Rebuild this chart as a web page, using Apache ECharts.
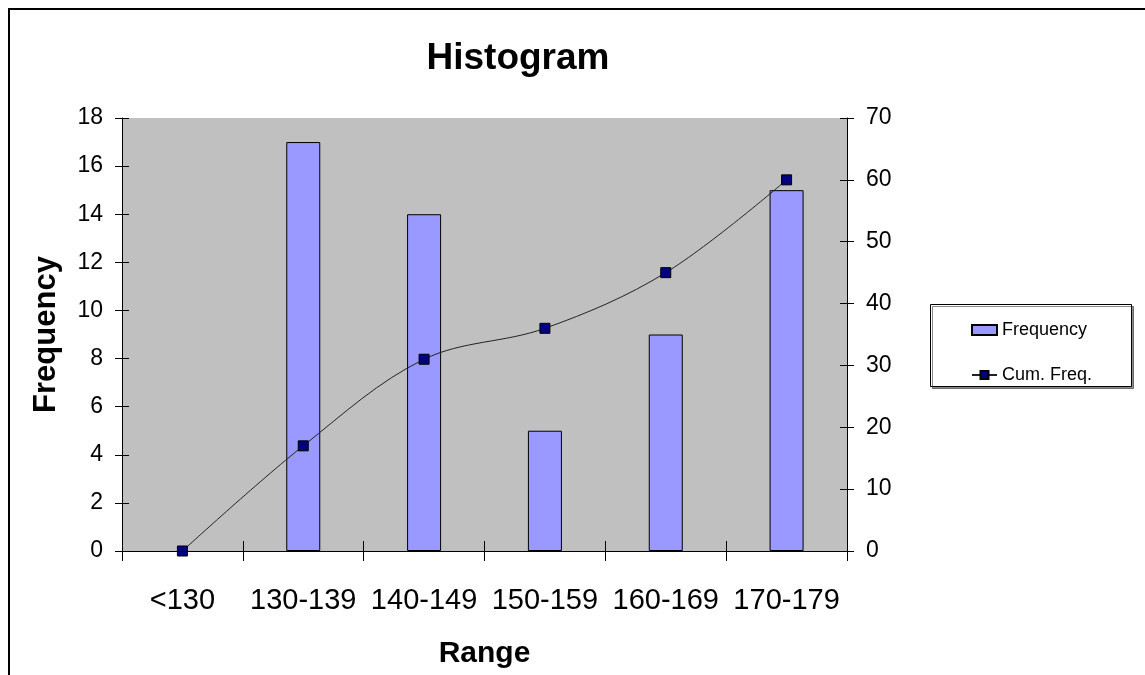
<!DOCTYPE html>
<html>
<head>
<meta charset="utf-8">
<script src="https://cdn.jsdelivr.net/npm/echarts@6/dist/echarts.min.js"></script>
<style>
  html, body { margin: 0; padding: 0; background: #fff; }
  #chart { width: 1145px; height: 675px; }
</style>
</head>
<body>
<div id="chart"></div>
<script>
const categories = ["<130", "130-139", "140-149", "150-159", "160-169", "170-179"];
const frequency = [0, 17, 14, 5, 9, 15];
const cumFreq = [0, 17, 31, 36, 45, 60];

const FONT = "'Liberation Sans', Arial, sans-serif";

const chart = echarts.init(document.getElementById("chart"));

// each axis drawn twice so the ticks cross the axis line like the original
const yLeft = { type: "value", min: 0, max: 18, interval: 2, position: "left" };
const yRight = { type: "value", min: 0, max: 70, interval: 10, position: "right" };

chart.setOption({
  animation: false,
  title: {
    text: "Histogram",
    left: 513,
    top: 35,
    textAlign: "center",
    textStyle: { fontFamily: FONT, fontSize: 37, fontWeight: "bold", color: "#000" },
  },
  graphic: [
    {
      type: "rect",
      shape: { x: 9, y: 9, width: 1200, height: 700 },
      style: { fill: "none", stroke: "#000", lineWidth: 2 },
      z: -1,
    },
    {
      type: "rect",
      shape: { x: 930.5, y: 304.5, width: 201, height: 82 },
      style: {
        fill: "#fff",
        stroke: "#000",
        lineWidth: 1,
        shadowColor: "rgba(0,0,0,0.45)",
        shadowOffsetX: 2,
        shadowOffsetY: 2,
      },
      z: 0,
    },
  ],
  legend: {
    orient: "vertical",
    left: 966,
    top: 316,
    itemGap: 27,
    itemWidth: 25,
    itemHeight: 10,
    z: 10,
    textStyle: { fontFamily: FONT, fontSize: 18, color: "#000" },
    data: [
      { name: "Frequency", icon: "rect" },
      { name: "Cum. Freq." },
    ],
  },
  grid: {
    left: 122,
    right: 298,
    top: 118,
    bottom: 124,
    show: true,
    backgroundColor: "#c0c0c0",
    borderWidth: 0,
  },
  xAxis: [
    {
      type: "category",
      data: categories,
      position: "bottom",
      axisLine: { show: true, lineStyle: { color: "#000", width: 1 } },
      axisTick: { show: true, interval: 0, length: 10, lineStyle: { color: "#000" } },
      axisLabel: { interval: 0, margin: 35, fontFamily: FONT, fontSize: 29, color: "#000" },
      name: "Range",
      nameLocation: "middle",
      nameGap: 88,
      nameTextStyle: { fontFamily: FONT, fontSize: 30, fontWeight: "bold", color: "#000" },
      z: 6,
    },
    {
      type: "category",
      data: categories,
      position: "bottom",
      axisLine: { show: false },
      axisTick: { show: true, interval: 0, inside: true, length: 10, lineStyle: { color: "#000" } },
      axisLabel: { show: false },
      z: 6,
    },
  ],
  yAxis: [
    {
      ...yLeft,
      axisLine: { show: true, lineStyle: { color: "#000" } },
      axisTick: { show: true, length: 7, lineStyle: { color: "#000" } },
      axisLabel: { margin: 19, fontFamily: FONT, fontSize: 23, color: "#000" },
      splitLine: { show: false },
      name: "Frequency",
      nameLocation: "middle",
      nameGap: 60,
      nameTextStyle: { fontFamily: FONT, fontSize: 31, fontWeight: "bold", color: "#000" },
    },
    {
      ...yRight,
      axisLine: { show: true, lineStyle: { color: "#000" } },
      axisTick: { show: true, length: 7, lineStyle: { color: "#000" } },
      axisLabel: { margin: 19, fontFamily: FONT, fontSize: 23, color: "#000" },
      splitLine: { show: false },
    },
    {
      ...yLeft,
      axisLine: { show: false },
      axisTick: { show: true, inside: true, length: 7, lineStyle: { color: "#000" } },
      axisLabel: { show: false },
      splitLine: { show: false },
    },
    {
      ...yRight,
      axisLine: { show: false },
      axisTick: { show: true, inside: true, length: 7, lineStyle: { color: "#000" } },
      axisLabel: { show: false },
      splitLine: { show: false },
    },
  ],
  series: [
    {
      name: "Frequency",
      type: "bar",
      data: frequency.map((v) => (v === 0 ? { value: v, itemStyle: { borderWidth: 0 } } : v)),
      xAxisIndex: 0,
      yAxisIndex: 0,
      barWidth: 34,
      itemStyle: { color: "#9999ff", borderColor: "#000", borderWidth: 1 },
    },
    {
      name: "Cum. Freq.",
      type: "line",
      data: cumFreq,
      xAxisIndex: 0,
      yAxisIndex: 1,
      smooth: 0.35,
      symbol: "rect",
      symbolSize: 10,
      lineStyle: { color: "#222", width: 1 },
      itemStyle: { color: "#000080", borderColor: "#000", borderWidth: 1 },
      z: 5,
    },
  ],
});
</script>
</body>
</html>
